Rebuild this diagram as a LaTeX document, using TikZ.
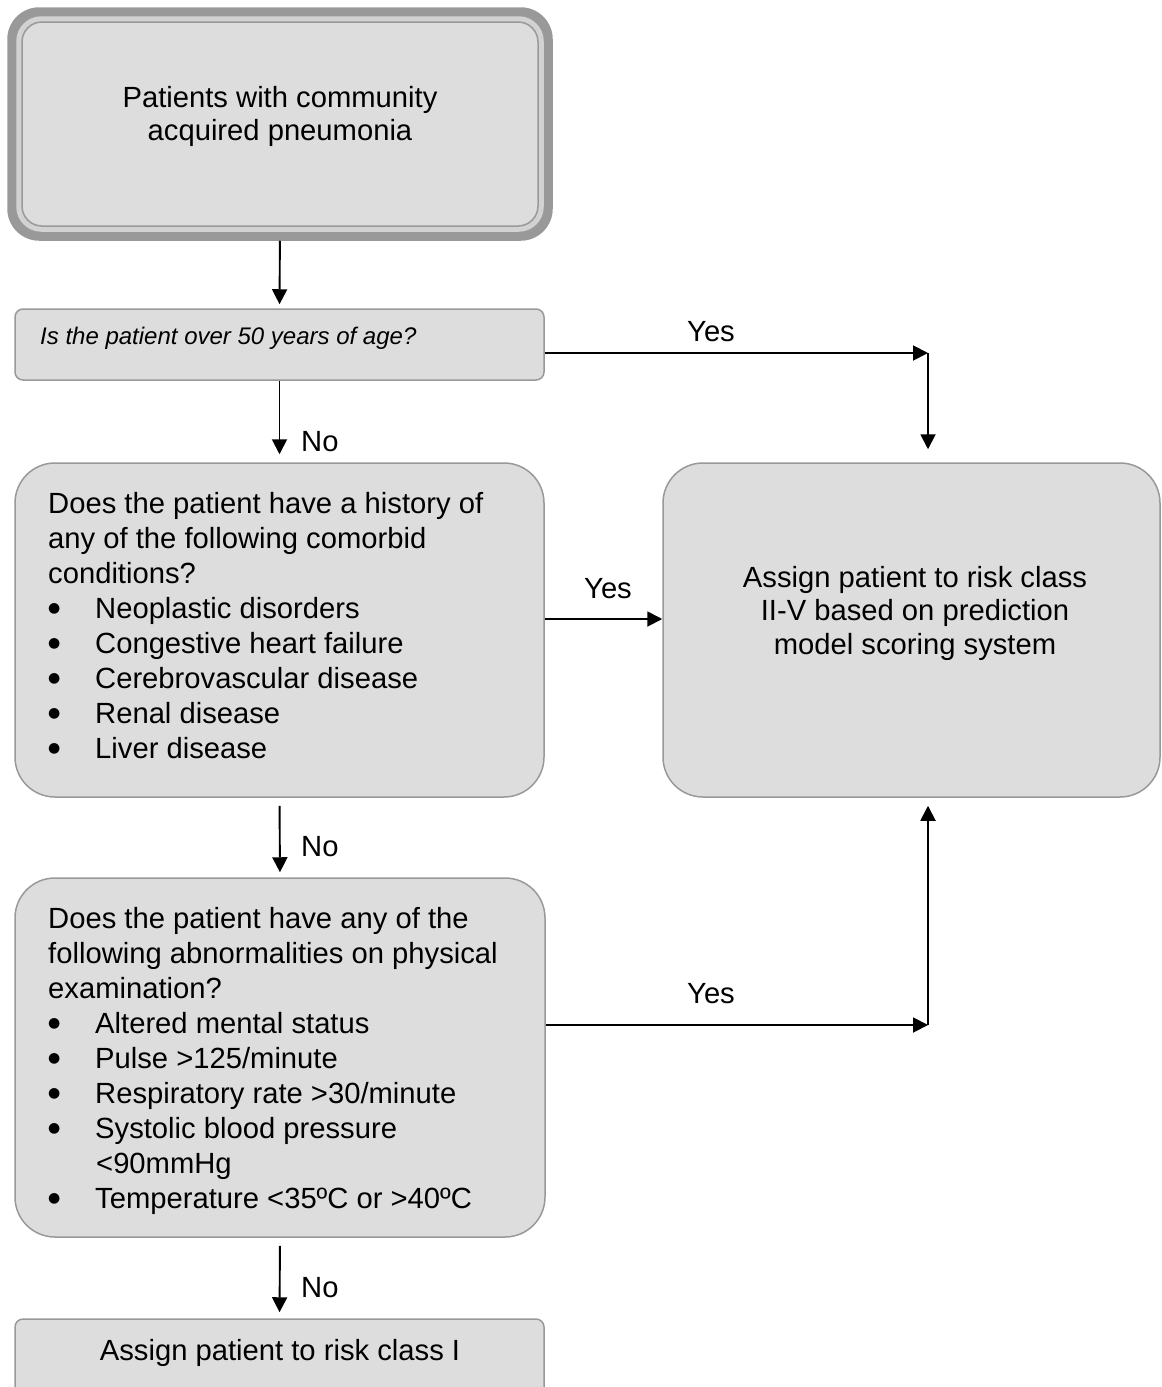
\documentclass[tikz,border=0pt]{standalone}
\usepackage{fontspec}
\setmainfont{Liberation Sans}
\newfontfamily\symf{DejaVu Sans}
\usetikzlibrary{arrows.meta,calc,backgrounds}
\definecolor{boxfill}{HTML}{DDDDDD}
\definecolor{boxline}{HTML}{999999}
\definecolor{bandcol}{HTML}{D2D2D2}
\newcommand\blt[1]{\hspace*{0pt}\makebox[47pt][l]{\raisebox{6pt}{\symf\fontsize{14}{14}\selectfont ●}}#1}
\begin{document}
\begin{tikzpicture}[x=1pt,y=-1pt,
  box/.style={draw=boxline, fill=boxfill, line width=1.5pt, rectangle, inner sep=0pt},
  txt/.style={inner sep=0pt, font=\fontsize{29.2}{35}\selectfont},
  arr/.style={line width=1.9pt, -{Triangle[length=15pt,width=15pt]}},
]
\useasboundingbox (0,0) rectangle (1162,1387);

% boxes
\node[box, rounded corners=20pt, minimum width=516pt, minimum height=204pt] (b1) at (280,124) {};
\begin{scope}[on background layer]
  \fill[boxline, rounded corners=32pt] ($(b1.north west)+(-14,-14)$) rectangle ($(b1.south east)+(14,14)$);
  \fill[bandcol, rounded corners=25pt] ($(b1.north west)+(-5,-5)$) rectangle ($(b1.south east)+(5,5)$);
\end{scope}
\node[box, rounded corners=8pt, minimum width=529pt, minimum height=71pt] (b2) at (279.5,344.5) {};
\node[box, rounded corners=40pt, minimum width=529pt, minimum height=334pt] (b3) at (279.5,630) {};
\node[box, rounded corners=40pt, minimum width=497pt, minimum height=334pt] (bR) at (911.5,630) {};
\node[box, rounded corners=40pt, minimum width=530pt, minimum height=359pt] (b4) at (280,1057.5) {};
\node[box, rounded corners=8pt, minimum width=529pt, minimum height=81pt] (b5) at (279.5,1359.5) {};

% texts
\node[txt, anchor=base] (t1a) at (280,107) {Patients with community};
\node[txt, anchor=base] (t1b) at (280,140) {acquired pneumonia};
\node[txt, anchor=base west, font=\fontsize{24}{28}\selectfont\itshape] (t2) at (40,344) {Is the patient over 50 years of age?};

\node[txt, anchor=base west] (t3a) at (48,513) {Does the patient have a history of};
\node[txt, anchor=base west] (t3b) at (48,548) {any of the following comorbid};
\node[txt, anchor=base west] (t3c) at (48,583) {conditions?};
\node[txt, anchor=base west] (t3d) at (48,618) {\blt{Neoplastic disorders}};
\node[txt, anchor=base west] (t3e) at (48,653) {\blt{Congestive heart failure}};
\node[txt, anchor=base west] (t3f) at (48,688) {\blt{Cerebrovascular disease}};
\node[txt, anchor=base west] (t3g) at (48,723) {\blt{Renal disease}};
\node[txt, anchor=base west] (t3h) at (48,758) {\blt{Liver disease}};

\node[txt, anchor=base] (tRa) at (915,587) {Assign patient to risk class};
\node[txt, anchor=base] (tRb) at (915,620) {II-V based on prediction};
\node[txt, anchor=base] (tRc) at (915,654) {model scoring system};

\node[txt, anchor=base west] (t4a) at (48,928) {Does the patient have any of the};
\node[txt, anchor=base west] (t4b) at (48,963) {following abnormalities on physical};
\node[txt, anchor=base west] (t4c) at (48,998) {examination?};
\node[txt, anchor=base west] (t4d) at (48,1033) {\blt{Altered mental status}};
\node[txt, anchor=base west] (t4e) at (48,1068) {\blt{Pulse >125/minute}};
\node[txt, anchor=base west] (t4f) at (48,1103) {\blt{Respiratory rate >30/minute}};
\node[txt, anchor=base west] (t4g) at (48,1138) {\blt{Systolic blood pressure}};
\node[txt, anchor=base west] (t4h) at (96,1173) {<90mmHg};
\node[txt, anchor=base west] (t4i) at (48,1208) {\blt{Temperature <35ºC or >40ºC}};

\node[txt, anchor=base] (t5) at (280,1360) {Assign patient to risk class I};

% connectors
\coordinate (c1) at (928,353);
\coordinate (y3) at ($(b3.east)+(0,-11)$);
\coordinate (y4) at ($(b4.east)+(0,-32.5)$);
\coordinate (c2) at (c1 |- y4);

\draw[arr, shorten <=14pt, shorten >=4pt] (b1.south) -- (b2.north);
\draw[arr] ($(b2.east)+(0,8.5)$) -- (c1);
\draw[arr, shorten >=13pt] (c1) -- (c1 |- bR.north);
\draw[arr, shorten >=8pt] (b2.south) -- (b3.north);
\draw[arr] (y3) -- (y3 -| bR.west);
\draw[arr, shorten <=8pt, shorten >=5pt] (b3.south) -- (b4.north);
\draw[arr] (y4) -- (c2);
\draw[arr, shorten >=8pt] (c2) -- (c2 |- bR.south);
\draw[arr, shorten <=8pt, shorten >=6pt] (b4.south) -- (b5.north);

% labels
\node[txt, anchor=base] (yes1) at (711,341) {Yes};
\node[txt, anchor=base west] (no1) at (301,451) {No};
\node[txt, anchor=base] (yes2) at (608,598) {Yes};
\node[txt, anchor=base west] (no2) at (301,856) {No};
\node[txt, anchor=base] (yes3) at (711,1003) {Yes};
\node[txt, anchor=base west] (no3) at (301,1297) {No};
\end{tikzpicture}
\end{document}
